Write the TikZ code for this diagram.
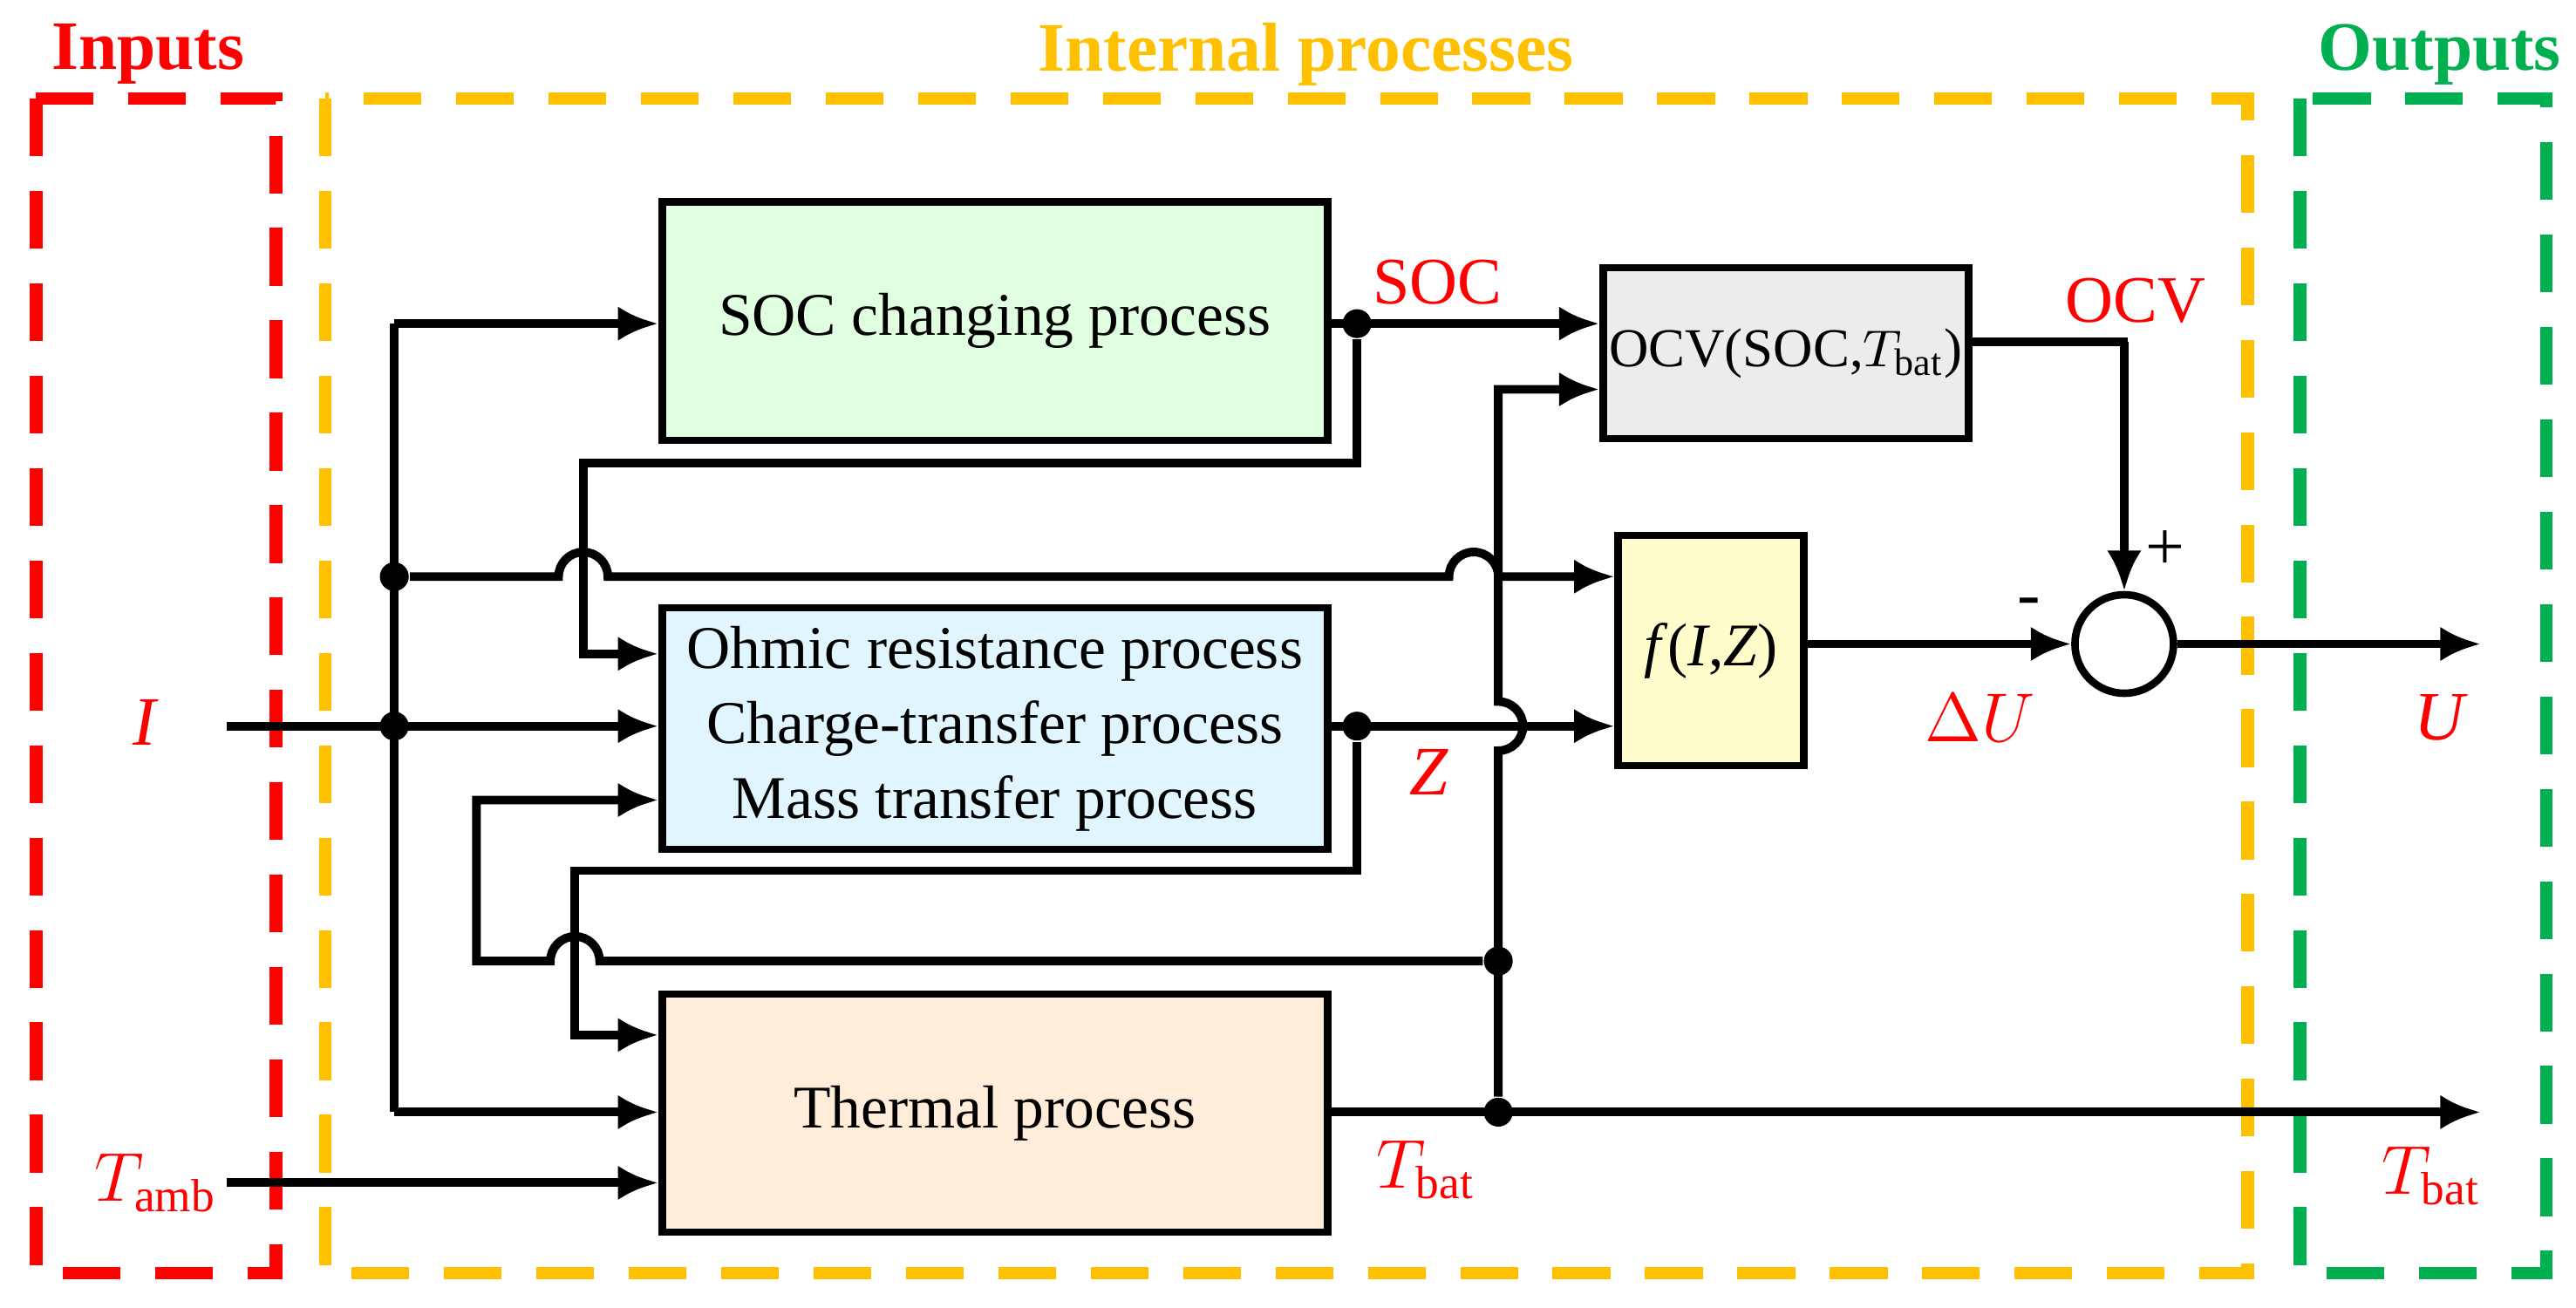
\documentclass[tikz,border=0pt]{standalone}
\usepackage{fontspec}
\setmainfont{Liberation Serif}
\usetikzlibrary{arrows.meta,positioning}
\definecolor{inred}{RGB}{255,0,0}
\definecolor{midgold}{RGB}{255,192,0}
\definecolor{outgreen}{RGB}{0,176,80}
\begin{document}
\begin{tikzpicture}[
        block/.style={rectangle, draw, line width=1.3pt, minimum width=4.05cm, minimum height=1.45cm, align=center, inner sep=1pt, font=\fontsize{10.5}{13}\selectfont},
        frame/.style={dashed, line width=2.2pt, dash pattern=on 10pt off 6pt},
        title/.style={font=\fontsize{12}{14}\selectfont\bfseries},
        sig/.style={text=red, font=\fontsize{11.5}{14}\selectfont},
        wire/.style={line width=1.5pt},
        arrow/.style={-{Latex[length=7pt,width=6pt]}, line width=1.5pt},
        dot/.style={circle, fill, inner sep=0pt, minimum size=5pt}
    ]
        \useasboundingbox (0,0) rectangle (15.68,-7.96);
        % dashed frames
        \draw[frame, inred] (0.22,-0.6) rectangle (1.68,-7.75);
        \draw[frame, midgold] (1.98,-0.6) rectangle (13.68,-7.75);
        \draw[frame, outgreen] (14.0,-0.6) rectangle (15.5,-7.75);
        \node[title, inred] at (0.9,-0.33) {Inputs};
        \node[title, midgold] at (7.95,-0.33) {Internal processes};
        \node[title, outgreen] at (14.85,-0.33) {Outputs};

        % blocks
        \node[block, fill=green!12] (soc) at (6.055,-1.955) {SOC changing process};
        \node[block, fill=cyan!12, minimum height=1.47cm] (ohm) at (6.055,-4.435) {Ohmic resistance process\\Charge-transfer process\\Mass transfer process};
        \node[block, fill=orange!15] (th) at (6.055,-6.775) {Thermal process};
        \node[block, fill=gray!15, minimum width=2cm, minimum height=1.04cm, font=\fontsize{9.5}{12}\selectfont] (ocv) at (10.87,-2.15) {OCV(SOC,$T_{\mathrm{bat}}$)};
        \node[block, fill=yellow!20, minimum width=1.13cm, minimum height=1.4cm] (f) at (10.415,-3.96) {\textit{f}(\textit{I},\textit{Z})};
        \node[circle, draw, line width=1.3pt, minimum size=0.6cm] (sum) at (12.93,-3.92) {};

        % inputs
        \coordinate (iin) at (1.38,-4.42);
        \coordinate (tin) at (1.38,-7.2);
        \node[sig, font=\fontsize{12}{14}\selectfont\itshape] at (0.88,-4.4) {I};
        \node[sig] at (0.95,-7.2) {$T_{\mathrm{amb}}$};
        \node[dot] (di) at (2.4,-4.42) {};
        \node[dot] (dh) at (2.4,-3.51) {};
        \draw[arrow] (iin) -- (iin -| ohm.west);
        \draw[arrow] (tin) -- (tin -| th.west);
        \draw[wire] (2.4,-1.97) -- (2.4,-6.77);
        \draw[arrow] (2.4,-1.97) -- (2.4,-1.97 -| soc.west);
        \draw[arrow] (2.4,-6.77) -- (2.4,-6.77 -| th.west);
        \draw[arrow] (dh) -- (3.4,-3.51) arc(180:0:0.15) -- (8.82,-3.51) arc(180:0:0.15) -- (9.12,-3.51) -- (dh -| f.west);

        % SOC output
        \node[dot] (ds) at (8.26,-1.97) {};
        \draw[arrow] (soc.east |- ds) -- (ds -| ocv.west);
        \node[sig] at (8.75,-1.72) {SOC};
        \draw[arrow] (ds) -- (8.26,-2.82) -- (3.55,-2.82) -- (3.55,-3.98) -- (3.55,-3.98 -| ohm.west);

        % Z output
        \node[dot] (dz) at (8.26,-4.42) {};
        \draw[arrow] (ohm.east |- dz) -- (dz -| f.west);
        \node[sig, font=\fontsize{12}{14}\selectfont\itshape] at (8.7,-4.7) {Z};
        \draw[arrow] (dz) -- (8.26,-5.3) -- (3.5,-5.3) -- (3.5,-6.3) -- (3.5,-6.3 -| th.west);

        % thermal output
        \node[dot] (dt) at (9.12,-6.77) {};
        \node[dot] (dm) at (9.12,-5.85) {};
        \coordinate (tout) at (15.1,-6.77);
        \draw[arrow] (th.east |- dt) -- (tout);
        \node[sig] at (8.68,-7.12) {$T_{\mathrm{bat}}$};
        \node[sig] at (14.8,-7.16) {$T_{\mathrm{bat}}$};
        \draw[arrow] (dt) -- (9.12,-4.57) arc(-90:90:0.15) -- (9.12,-2.37) -- (9.12,-2.37 -| ocv.west);
        \draw[arrow] (dm) -- (3.65,-5.85) arc(0:180:0.15) -- (2.9,-5.85) -- (2.9,-4.87) -- (2.9,-4.87 -| ohm.west);

        % summation
        \draw[wire] (ocv.east |- 0,-2.08) -- (12.95,-2.08);
        \draw[arrow] (12.93,-2.08) -- (sum.north);
        \node[sig] at (13.0,-1.83) {OCV};
        \node[font=\fontsize{12}{14}\selectfont] at (13.18,-3.35) {+};
        \draw[arrow] (f.east |- sum) -- (sum.west);
        \node[font=\fontsize{12}{14}\selectfont] at (12.35,-3.7) {-};
        \node[sig] at (12.05,-4.37) {$\Delta U$};
        \coordinate (uout) at (15.1,-3.92);
        \draw[arrow] (sum.east) -- (uout);
        \node[sig, font=\fontsize{12}{14}\selectfont\itshape] at (14.85,-4.37) {U};
    \end{tikzpicture}
\end{document}
